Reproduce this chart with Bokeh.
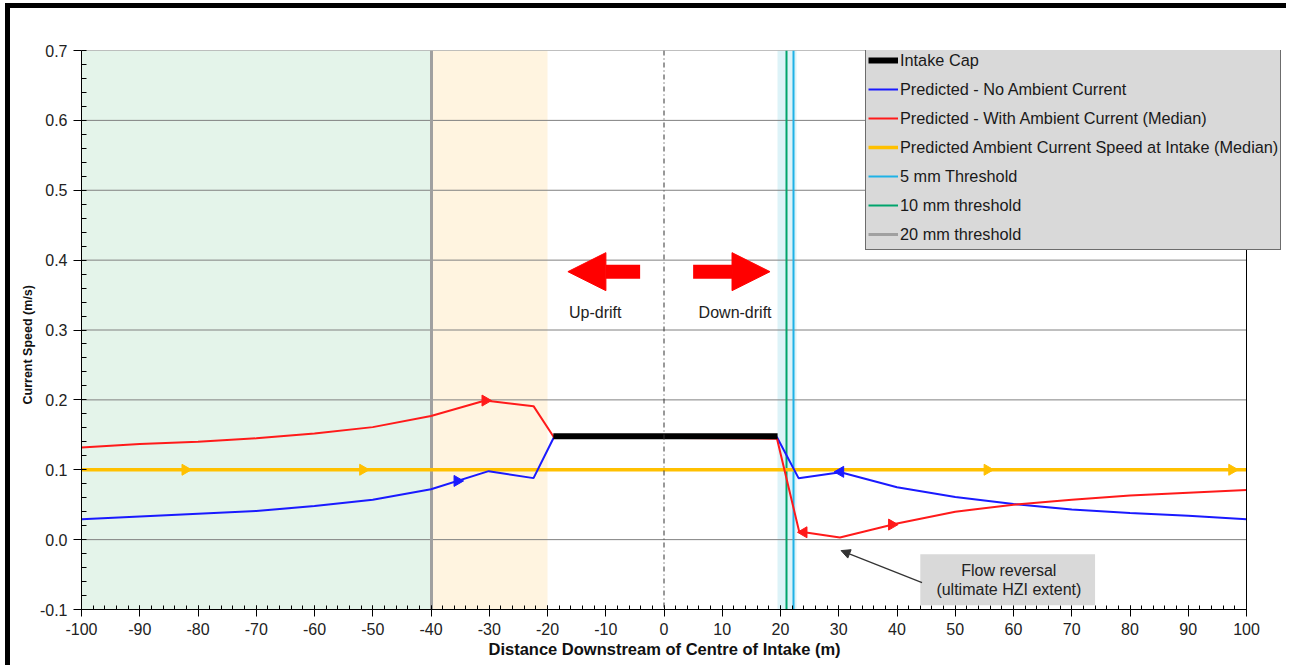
from bokeh.plotting import figure
from bokeh.models import (Range1d, Span, Label, Legend, LegendItem, Arrow, NormalHead, Title,
                          BoxAnnotation, PrintfTickFormatter, FixedTicker)
from bokeh.embed import file_html
from bokeh.resources import INLINE
import numpy as np

FONT = "Liberation Sans"

# ---------------- data ----------------
x_blue = [-100, -90, -80, -70, -60, -50, -40, -30.1, -22.4, -18.9, 19.4, 23.1, 30.3, 40, 50, 60, 70, 80, 90, 100]
y_blue = [0.029, 0.033, 0.037, 0.041, 0.048, 0.057, 0.072, 0.098, 0.088, 0.1465, 0.1465, 0.088, 0.0965,
          0.075, 0.061, 0.051, 0.043, 0.038, 0.034, 0.029]

x_red = [-100, -90, -80, -70, -60, -50, -40, -30.7, -22.4, -18.9, 19.4, 23.2, 30.2, 40, 50, 60, 70, 80, 90, 100]
y_red = [0.132, 0.137, 0.140, 0.145, 0.152, 0.161, 0.177, 0.199, 0.191, 0.1465, 0.1445, 0.0115, 0.003,
         0.023, 0.040, 0.050, 0.057, 0.063, 0.067, 0.071]

x_ambient = [-100, 100]
y_ambient = [0.1, 0.1]

x_cap = [-19.0, 19.5]
y_cap = [0.148, 0.148]

# direction markers (x, y, direction: 1 = downstream/right, -1 = upstream/left)
mk_blue_x = [-35.5, 30.3]
mk_blue_y = [0.084, 0.097]
mk_blue_dir = [1, -1]
mk_red_x = [-30.7, 24.0, 39.1]
mk_red_y = [0.199, 0.0105, 0.0215]
mk_red_dir = [1, -1, 1]
mk_amb_x = [-82.2, -51.7, 55.5, 97.5]
mk_amb_y = [0.1, 0.1, 0.1, 0.1]
mk_amb_dir = [1, 1, 1, 1]

thr_5mm = 22.3
thr_10mm = 21.1
thr_20mm = -40.0

zone_green = (-100, -40)
zone_orange = (-40, -20)
zone_cyan = (19.5, 22.8)

x_min, x_max = -100, 100
y_min, y_max = -0.1, 0.7
x_ticks = list(range(-100, 101, 10))
y_ticks = [-0.1, 0.0, 0.1, 0.2, 0.3, 0.4, 0.5, 0.6, 0.7]

# ---------------- figure ----------------
# frame is widened to the right (beyond x=100) so the legend box can overhang the plot edge
X_EXTRA = 7.38
p = figure(width=1281, height=662, output_backend="svg", toolbar_location=None,
           x_range=Range1d(x_min, x_max + X_EXTRA), y_range=Range1d(y_min, y_max),
           min_border_left=71, min_border_right=2, min_border_top=42, min_border_bottom=61)
p.styles = {"border-top": "5px solid black", "border-left": "5px solid black",
            "margin-top": "3px", "margin-left": "5px"}
p.outline_line_color = None
p.background_fill_color = "white"
p.border_fill_color = "white"

# shaded zones
p.vstrip(x0=[zone_green[0]], x1=[zone_green[1]], fill_color="#e4f4ea", line_color=None, level="underlay")
p.vstrip(x0=[zone_orange[0]], x1=[zone_orange[1]], fill_color="#fff4e0", line_color=None, level="underlay")
p.vstrip(x0=[zone_cyan[0]], x1=[zone_cyan[1]], fill_color="#ddf3f8", line_color=None, level="underlay")

# horizontal grid lines, limited to the -100..100 span
p.xgrid.grid_line_color = None
p.ygrid.grid_line_color = None
p.segment(x0=[x_min] * len(y_ticks), x1=[x_max] * len(y_ticks), y0=y_ticks, y1=y_ticks,
          line_color="#808080", line_width=1, level="underlay")

p.xaxis.bounds = (x_min, x_max)
p.xaxis.ticker = FixedTicker(ticks=x_ticks, minor_ticks=list(np.arange(-100, 101, 2)))
p.xaxis.formatter = PrintfTickFormatter(format="%d")
p.yaxis.ticker = FixedTicker(ticks=y_ticks, minor_ticks=list(np.round(np.arange(-0.1, 0.701, 0.02), 3)))
p.yaxis.formatter = PrintfTickFormatter(format="%.1f")
for ax in (p.xaxis[0], p.yaxis[0]):
    ax.axis_line_color = "black"
    ax.major_tick_line_color = "black"
    ax.minor_tick_line_color = "black"
    ax.major_label_text_font = FONT
    ax.major_label_text_color = "#222222"
    ax.major_label_text_font_size = "16px"

p.xaxis.major_tick_in = 4
p.xaxis.major_tick_out = 7
p.xaxis.minor_tick_in = 4
p.xaxis.minor_tick_out = 0
p.xaxis.major_label_standoff = 6

p.yaxis.major_tick_in = 0
p.yaxis.major_tick_out = 8
p.yaxis.minor_tick_in = 5
p.yaxis.minor_tick_out = 0
p.yaxis.major_label_standoff = 6

# axis titles as side titles, so they can be positioned like the reference
p.add_layout(Title(text="Distance Downstream of Centre of Intake (m)", align="left", offset=407,
                   vertical_align="top", standoff=4, text_font=FONT, text_font_size="16.5px",
                   text_font_style="bold", text_color="#111111"), "below")
p.add_layout(Title(text="Current Speed  (m/s)", align="left", offset=205,
                   vertical_align="middle", standoff=2, text_font=FONT, text_font_size="12.5px",
                   text_font_style="bold", text_color="#111111"), "left")

# right frame edge and centre line
p.add_layout(Span(location=x_max, dimension="height", line_color="black", line_width=1))
p.add_layout(Span(location=0, dimension="height", line_color="#333333", line_width=1, line_dash="5 3 1 3"))

# threshold lines
r20 = p.vspan(x=[thr_20mm], line_color="#a0a0a0", line_width=3)
r10 = p.vspan(x=[thr_10mm], line_color="#00a46c", line_width=2)
r5 = p.vspan(x=[thr_5mm], line_color="#1fb2e6", line_width=2)

# series
r_amb = p.line(x_ambient, y_ambient, line_color="#ffc000", line_width=3.5)
r_blue = p.line(x_blue, y_blue, line_color="#1a1aff", line_width=2)
r_red = p.line(x_red, y_red, line_color="#ff1a1a", line_width=2)
r_cap = p.line(x_cap, y_cap, line_color="black", line_width=6)

def markers(xs, ys, dirs, color):
    ang = [-np.pi / 2 if d > 0 else np.pi / 2 for d in dirs]
    p.scatter(xs, ys, marker="triangle", size=11, angle=ang, fill_color=color, line_color=color)

markers(mk_amb_x, mk_amb_y, mk_amb_dir, "#ffc000")
markers(mk_blue_x, mk_blue_y, mk_blue_dir, "#1a1aff")
markers(mk_red_x, mk_red_y, mk_red_dir, "#ff1a1a")

# drift arrows
p.add_layout(Arrow(x_start=-4.1, y_start=0.3835, x_end=-16.5, y_end=0.3835, line_color="red", line_width=14,
                   end=NormalHead(size=38, fill_color="red", line_color="red")))
p.add_layout(Arrow(x_start=5.0, y_start=0.3835, x_end=18.2, y_end=0.3835, line_color="red", line_width=14,
                   end=NormalHead(size=38, fill_color="red", line_color="red")))
for txt, xx in (("Up-drift", -11.8), ("Down-drift", 12.2)):
    p.add_layout(Label(x=xx, y=0.325, text=txt, text_align="center", text_baseline="middle",
                       text_font=FONT, text_font_size="16px", text_color="#222222"))

# flow reversal note
p.add_layout(BoxAnnotation(left=44, right=74, top=-0.021, bottom=-0.094,
                           fill_color="#d9d9d9", fill_alpha=1, line_color=None))
p.add_layout(Label(x=59.2, y=-0.0435, text="Flow reversal", text_align="center", text_baseline="middle",
                   text_font=FONT, text_font_size="16px", text_color="#222222"))
p.add_layout(Label(x=59.2, y=-0.0715, text="(ultimate HZI extent)", text_align="center", text_baseline="middle",
                   text_font=FONT, text_font_size="16px", text_color="#222222"))
p.add_layout(Arrow(x_start=44.3, y_start=-0.0615, x_end=30.4, y_end=-0.0157, line_color="#333333", line_width=1.2,
                   end=NormalHead(size=9, fill_color="#333333", line_color="#333333")))

# legend
legend = Legend(items=[
    LegendItem(label="Intake Cap", renderers=[r_cap]),
    LegendItem(label="Predicted - No Ambient Current", renderers=[r_blue]),
    LegendItem(label="Predicted - With Ambient Current (Median)", renderers=[r_red]),
    LegendItem(label="Predicted Ambient Current Speed at Intake (Median)", renderers=[r_amb]),
    LegendItem(label="5 mm Threshold", renderers=[r5]),
    LegendItem(label="10 mm threshold", renderers=[r10]),
    LegendItem(label="20 mm threshold", renderers=[r20]),
], location=(784, 359))
legend.background_fill_color = "#d9d9d9"
legend.background_fill_alpha = 1
legend.border_line_color = "black"
legend.border_line_width = 1
legend.label_text_font = FONT
legend.label_text_font_size = "16.3px"
legend.label_text_color = "#1a1a1a"
legend.glyph_width = 30
legend.glyph_height = 26
legend.label_height = 26
legend.label_standoff = 2
legend.spacing = 3
legend.padding = 2
legend.margin = 0
p.add_layout(legend)

open("out.html", "w").write(file_html(p, INLINE))
